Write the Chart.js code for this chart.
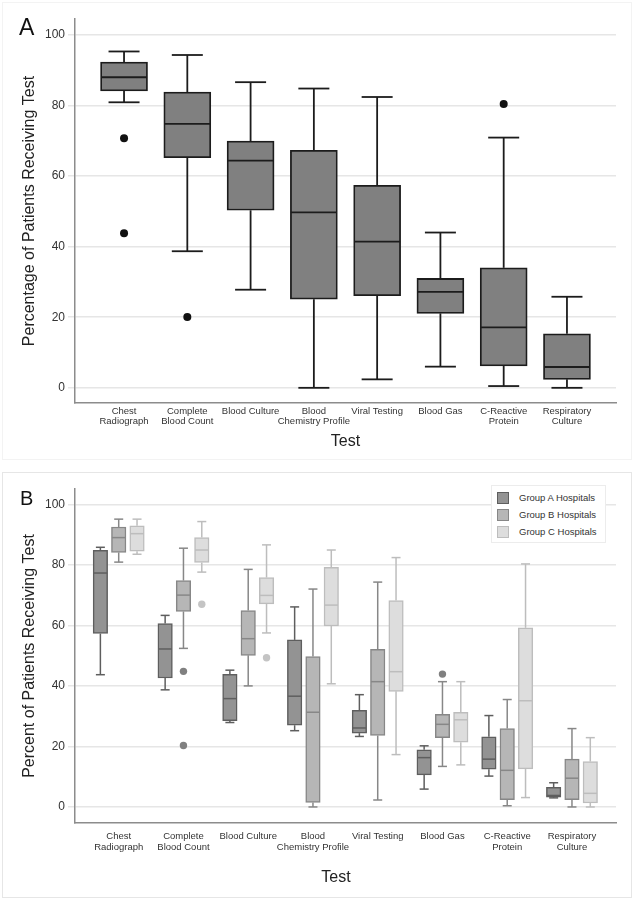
<!DOCTYPE html>
<html>
<head>
<meta charset="utf-8">
<script src="https://cdn.jsdelivr.net/npm/chart.js@4"></script>
<style>
  html, body { margin: 0; padding: 0; background: #fff; }
  body { width: 635px; height: 900px; position: relative; overflow: hidden;
         font-family: "Liberation Sans", Arial, sans-serif; }
  .frame { position: absolute; box-sizing: border-box; }
  canvas { position: absolute; left: 0; }
  .txt { position: absolute; white-space: nowrap; color: #111; }
  .legend { position: absolute; left: 491px; top: 485px; width: 115px; height: 58px;
            box-sizing: border-box; border: 1px solid #ececec; background: #fff; }
  .lg-row { position: absolute; left: 5px; width: 105px; height: 12px; }
  .lg-sw { position: absolute; left: 0; top: 0; width: 12px; height: 12px; box-sizing: border-box; border: 1px solid; }
  .lg-tx { position: absolute; left: 22px; top: -1px; font-size: 9.5px; line-height: 14px; color: #333; white-space: nowrap; }
</style>
</head>
<body>
<div class="frame" style="left:2px;top:2px;width:630px;height:458px;border:1px solid #f3f3f3;"></div>
<div class="frame" style="left:2px;top:472px;width:630px;height:426px;border:1px solid #e6e6e6;"></div>
<canvas id="chartA" width="635" height="460" style="top:0;"></canvas>
<canvas id="chartB" width="635" height="440" style="top:460px;"></canvas>
<div class="txt" style="left:19px;top:15.5px;font-size:23px;line-height:23px;">A</div>
<div class="txt" style="left:20px;top:487.5px;font-size:20px;line-height:20px;">B</div>
<div class="txt" style="left:286px;top:869px;width:100px;text-align:center;font-size:16px;line-height:16px;color:#222;">Test</div>
<div class="legend" id="legend"></div>

<script>
// ---------------- DATA ----------------
const categories = [
  ["Chest", "Radiograph"],
  ["Complete", "Blood Count"],
  ["Blood Culture"],
  ["Blood", "Chemistry Profile"],
  ["Viral Testing"],
  ["Blood Gas"],
  ["C-Reactive", "Protein"],
  ["Respiratory", "Culture"]
];
const yTicks = [0, 20, 40, 60, 80, 100];
const groupNames = ["Group A Hospitals", "Group B Hospitals", "Group C Hospitals"];

// Panel A: all hospitals
const allLow     = [80.9, 38.7, 27.8,  0.0,  2.4,  6.0,  0.5,  0.0];
const allQ1      = [84.1, 65.2, 50.3, 25.1, 26.1, 21.1,  6.2,  2.4];
const allMedian  = [88.0, 74.8, 64.4, 49.7, 41.4, 27.2, 17.1,  5.9];
const allQ3      = [92.3, 83.8, 69.9, 67.3, 57.4, 31.0, 34.0, 15.3];
const allHigh    = [95.3, 94.3, 86.6, 84.8, 82.4, 44.0, 70.9, 25.8];
const allOutliers = [[70.7, 43.8], [20.1], [], [], [], [], [80.4], []];

// Panel B: Group A hospitals
const grpALow    = [43.7, 38.7, 27.9, 25.2, 23.3,  5.9, 10.2, 3.0];
const grpAQ1     = [57.3, 42.6, 28.5, 27.0, 24.4, 10.6, 12.5, 3.2];
const grpAMedian = [77.3, 52.2, 35.8, 36.6, 26.1, 16.3, 15.8, 3.8];
const grpAQ3     = [84.8, 60.6, 43.8, 55.2, 31.9, 18.9, 23.2, 6.5];
const grpAHigh   = [85.8, 63.3, 45.2, 66.1, 37.1, 20.2, 30.2, 8.0];
const grpAOutliers = [[], [], [], [], [], [], [], []];

// Panel B: Group B hospitals
const grpBLow    = [80.9, 52.4, 40.0,  0.0,  2.3, 13.4,  0.4,  0.0];
const grpBQ1     = [84.1, 64.6, 50.1,  1.5, 23.6, 22.9,  2.4,  2.4];
const grpBMedian = [89.0, 70.0, 55.6, 31.3, 41.4, 27.3, 12.1,  9.5];
const grpBQ3     = [92.5, 74.8, 64.9, 49.7, 52.1, 30.6, 25.9, 15.8];
const grpBHigh   = [95.1, 85.5, 78.5, 72.0, 74.3, 41.4, 35.5, 25.9];
const grpBOutliers = [[], [44.8, 20.3], [], [], [], [43.9], [], []];

// Panel B: Group C hospitals
const grpCLow    = [83.5, 77.6, 57.5, 40.7, 17.3, 13.9,  3.1,  0.0];
const grpCQ1     = [84.5, 80.8, 67.1, 59.8, 38.2, 21.4, 12.6,  1.3];
const grpCMedian = [90.3, 84.9, 69.9, 66.7, 44.7, 28.8, 35.1,  4.5];
const grpCQ3     = [92.9, 89.0, 75.8, 79.2, 68.2, 31.3, 59.2, 15.0];
const grpCHigh   = [95.1, 94.3, 86.6, 84.9, 82.4, 41.4, 80.3, 22.9];
const grpCOutliers = [[], [67.0], [49.3], [], [], [], [], []];

// ---------------- STYLE / LAYOUT ----------------
const FONT = '"Liberation Sans", Arial, sans-serif';
Chart.defaults.font.family = FONT;
Chart.defaults.color = '#333';

const styleAll = { fill: '#808080', line: '#1c1c1c', dot: '#111111', box: 47, cap: 31, lw: 1.8, r: 4 };
const styleGrp = [
  { fill: '#939393', line: '#5e5e5e', dot: '#5e5e5e', box: 14.5, cap: 9, lw: 1.5, r: 3.7 },
  { fill: '#b6b6b6', line: '#878787', dot: '#808080', box: 14.5, cap: 9, lw: 1.5, r: 3.7 },
  { fill: '#dddddd', line: '#bdbdbd', dot: '#c4c4c4', box: 14.5, cap: 9, lw: 1.5, r: 3.7 }
];
const GROUP_SHIFT = 0.283;

function makeSeries(low, q1, med, q3, high, outliers, shift, style, label) {
  return { low, q1, med, q3, high, outliers, shift, style, label };
}

function boxDatasets(series) {
  const ds = [];
  series.forEach((s) => {
    ds.push({
      type: 'bar',
      label: s.label,
      data: s.q1.map((v, i) => ({ x: i + s.shift, y: [v, s.q3[i]] })),
      backgroundColor: s.style.fill,
      borderColor: s.style.line,
      borderWidth: s.style.lw,
      borderSkipped: false,
      barThickness: s.style.box,
      grouped: false,
      order: 2
    });
  });
  series.forEach((s) => {
    const pts = [];
    s.outliers.forEach((arr, i) => arr.forEach(v => pts.push({ x: i + s.shift, y: v })));
    ds.push({
      type: 'scatter',
      label: s.label + ' outliers',
      data: pts,
      backgroundColor: s.style.dot,
      borderColor: s.style.dot,
      pointRadius: s.style.r,
      pointHoverRadius: s.style.r,
      borderWidth: 0,
      showLine: false,
      order: 0
    });
  });
  return ds;
}

// whiskers, caps and medians drawn from the data through the chart's scales
function whiskerPlugin(series) {
  return {
    id: 'whiskers',
    afterDatasetsDraw(chart) {
      const { ctx, scales: { x, y } } = chart;
      ctx.save();
      ctx.lineCap = 'butt';
      series.forEach((s) => {
        ctx.strokeStyle = s.style.line;
        ctx.lineWidth = s.style.lw;
        const seg = (x1, y1, x2, y2) => { ctx.beginPath(); ctx.moveTo(x1, y1); ctx.lineTo(x2, y2); ctx.stroke(); };
        s.med.forEach((m, i) => {
          const cx = x.getPixelForValue(i + s.shift);
          const hc = s.style.cap / 2, hb = s.style.box / 2;
          const yHi = y.getPixelForValue(s.high[i]);
          const yQ3 = y.getPixelForValue(s.q3[i]);
          const yQ1 = y.getPixelForValue(s.q1[i]);
          const yLo = y.getPixelForValue(s.low[i]);
          const yMd = y.getPixelForValue(m);
          if (yHi < yQ3 - 0.5) seg(cx, yQ3, cx, yHi);
          seg(cx - hc, yHi, cx + hc, yHi);
          if (yLo > yQ1 + 0.5) seg(cx, yQ1, cx, yLo);
          seg(cx - hc, yLo, cx + hc, yLo);
          seg(cx - hb + 0.5, yMd, cx + hb - 0.5, yMd);
        });
      });
      ctx.restore();
    }
  };
}

function makeChart(canvasId, series, cfg) {
  return new Chart(document.getElementById(canvasId), {
    type: 'bar',
    data: { datasets: boxDatasets(series) },
    plugins: [whiskerPlugin(series)],
    options: {
      responsive: false,
      animation: false,
      devicePixelRatio: 1,
      layout: { padding: { left: 0, right: 19, top: cfg.top, bottom: 0 } },
      plugins: { legend: { display: false }, tooltip: { enabled: false } },
      scales: {
        x: {
          type: 'linear',
          min: cfg.xMin, max: cfg.xMax,
          offset: false,
          afterBuildTicks: (sc) => { sc.ticks = categories.map((c, i) => ({ value: i })); },
          afterFit: (sc) => { sc.height = cfg.xHeight; },
          grid: { display: false, drawTicks: false, offset: false },
          border: { display: true, color: '#8c8c8c', width: 1.5 },
          ticks: {
            autoSkip: false, maxRotation: 0, minRotation: 0,
            padding: cfg.xTickPad,
            color: '#333',
            font: { size: 9.5, lineHeight: cfg.xLine },
            callback: (v, i) => categories[i]
          },
          title: cfg.xTitle ? {
            display: true, text: cfg.xTitle, color: '#222',
            font: { size: 16 }, padding: { top: 0, bottom: 9 }
          } : { display: false }
        },
        y: {
          type: 'linear',
          min: cfg.yMin, max: cfg.yMax,
          afterBuildTicks: (sc) => { sc.ticks = yTicks.map(v => ({ value: v })); },
          afterFit: (sc) => { sc.width = 75; },
          grid: { color: '#e6e6e6', lineWidth: 1.5, tickLength: 7, drawTicks: true },
          border: { display: true, color: '#8c8c8c', width: 1.5 },
          ticks: { padding: 3, color: '#333', font: { size: 12 } },
          title: {
            display: true, text: cfg.yTitle, color: '#222',
            font: { size: 16 }, padding: { top: 20, bottom: 0 }
          }
        }
      }
    }
  });
}

const seriesA = [makeSeries(allLow, allQ1, allMedian, allQ3, allHigh, allOutliers, 0, styleAll, 'All Hospitals')];
const seriesB = [
  makeSeries(grpALow, grpAQ1, grpAMedian, grpAQ3, grpAHigh, grpAOutliers, -GROUP_SHIFT, styleGrp[0], groupNames[0]),
  makeSeries(grpBLow, grpBQ1, grpBMedian, grpBQ3, grpBHigh, grpBOutliers, 0, styleGrp[1], groupNames[1]),
  makeSeries(grpCLow, grpCQ1, grpCMedian, grpCQ3, grpCHigh, grpCOutliers, GROUP_SHIFT, styleGrp[2], groupNames[2])
];

makeChart('chartA', seriesA, {
  top: 19, xHeight: 57, xMin: -0.775, xMax: 7.775, yMin: -4.3, yMax: 104.5,
  xTickPad: 3, xLine: 1.1, xTitle: 'Test', yTitle: 'Percentage of Patients Receiving Test'
});
makeChart('chartB', seriesB, {
  top: 29, xHeight: 77, xMin: -0.675, xMax: 7.68, yMin: -5.3, yMax: 105.06,
  xTickPad: 8, xLine: 1.15, xTitle: null, yTitle: 'Percent of Patients Receiving Test'
});

// legend (HTML)
const lg = document.getElementById('legend');
groupNames.forEach((name, k) => {
  const row = document.createElement('div');
  row.className = 'lg-row';
  row.style.top = (5.5 + k * 17.4) + 'px';
  const sw = document.createElement('div');
  sw.className = 'lg-sw';
  sw.style.background = styleGrp[k].fill;
  sw.style.borderColor = styleGrp[k].line;
  const tx = document.createElement('div');
  tx.className = 'lg-tx';
  tx.textContent = name;
  row.appendChild(sw); row.appendChild(tx);
  lg.appendChild(row);
});
</script>
</body>
</html>
